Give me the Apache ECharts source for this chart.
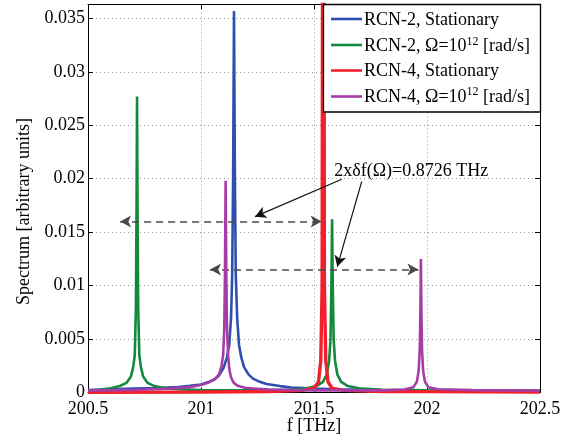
<!DOCTYPE html>
<html><head><meta charset="utf-8">
<script src="https://cdn.jsdelivr.net/npm/echarts@6/dist/echarts.min.js"></script>
<style>html,body{margin:0;padding:0;background:#fff}#c{width:567px;height:438px}</style>
</head><body><div id="c"></div>
<script>
// ---- data ----
const seriesNames = ['RCN-2, Stationary', 'RCN-2, Ω=10^12 [rad/s]', 'RCN-4, Stationary', 'RCN-4, Ω=10^12 [rad/s]'];
const seriesColors = ['#2f4fb0', '#12893c', '#f2202a', '#a63ca6'];
const xTicks = [200.5, 201, 201.5, 202, 202.5];
const yTicks = [0, 0.005, 0.01, 0.015, 0.02, 0.025, 0.03, 0.035];

const rcn2Stationary = [
  [200.5,0.00022],[200.6,0.0003],[200.7,0.00036],[200.8,0.00042],[200.9,0.00052],[200.95,0.00062],
  [201.0,0.00075],[201.03,0.00095],[201.06,0.00125],[201.08,0.0016],[201.1,0.0023],[201.115,0.0033],
  [201.125,0.0045],[201.133,0.007],[201.138,0.011],[201.142,0.02],[201.146,0.0357],[201.150,0.02],
  [201.154,0.011],[201.160,0.007],[201.168,0.0045],[201.178,0.0033],[201.19,0.0024],[201.21,0.0017],
  [201.23,0.0013],[201.26,0.001],[201.29,0.0008],[201.35,0.0006],[201.4,0.00046],[201.5,0.00036],
  [201.6,0.0003],[201.8,0.00022],[202.0,0.00018],[202.5,0.00012]
];
const rcn2Rotating = [
  [200.5,0.00018],[200.55,0.00025],[200.6,0.0004],[200.64,0.0006],[200.67,0.0009],[200.69,0.0015],
  [200.70,0.0024],[200.707,0.0035],[200.712,0.008],[200.715,0.018],[200.717,0.0277],[200.719,0.018],
  [200.722,0.008],[200.727,0.0035],[200.734,0.0024],[200.744,0.0015],[200.764,0.0009],[200.794,0.0006],
  [200.84,0.0004],[200.9,0.0003],[201.0,0.00022],[201.2,0.0002],[201.4,0.00025],[201.47,0.0004],
  [201.51,0.0006],[201.54,0.001],[201.557,0.0017],[201.567,0.003],[201.573,0.005],[201.577,0.01],
  [201.580,0.0162],[201.583,0.01],[201.587,0.005],[201.593,0.003],[201.603,0.0017],[201.62,0.001],
  [201.65,0.0006],[201.7,0.0004],[201.8,0.00025],[202.0,0.0002],[202.5,0.00018]
];
const rcn4Stationary = [
  [200.5,0.00003],[201.0,0.00005],[201.3,0.0001],[201.45,0.0002],[201.5,0.0004],[201.52,0.001],
  [201.53,0.003],[201.536,0.01],[201.541,0.1],[201.546,0.01],[201.552,0.003],[201.562,0.001],
  [201.58,0.0004],[201.63,0.0002],[201.8,0.0001],[202.0,0.00008],[202.5,0.00005]
];
const rcn4Rotating = [
  [200.5,0.00018],[200.7,0.00025],[200.85,0.00035],[200.95,0.0005],[201.0,0.0007],[201.03,0.0009],
  [201.06,0.0012],[201.08,0.0017],[201.09,0.0024],[201.098,0.0035],[201.103,0.006],[201.106,0.011],
  [201.109,0.0198],[201.112,0.011],[201.115,0.006],[201.12,0.0035],[201.125,0.0022],[201.133,0.0014],
  [201.145,0.0009],[201.165,0.0006],[201.2,0.00042],[201.3,0.00028],[201.5,0.0002],[201.8,0.0002],
  [201.9,0.00028],[201.94,0.0005],[201.955,0.001],[201.963,0.002],[201.968,0.004],[201.971,0.008],
  [201.973,0.0125],[201.975,0.008],[201.978,0.004],[201.983,0.002],[201.991,0.001],[202.006,0.0005],
  [202.05,0.0003],[202.2,0.00022],[202.5,0.00018]
];
const seriesData = [rcn2Stationary, rcn2Rotating, rcn4Stationary, rcn4Rotating];

// annotation anchors (data coordinates)
const annotationText = '2xδf(Ω)=0.8726 THz';
const annotationPos = [201.93, 0.0207];
const dashedArrows = [
  [[200.642, 0.0160], [201.534, 0.0160]],
  [[201.040, 0.0115], [201.962, 0.0115]]
];
const solidArrows = [
  [[201.623, 0.01995], [201.239, 0.01645]],
  [[201.711, 0.01973], [201.603, 0.01177]]
];

const FONT = 'Liberation Serif, Times New Roman, serif';
const chart = echarts.init(document.getElementById('c'));

function richName(name) {
  const i = name.indexOf('^12');
  if (i < 0) return '{a|' + name + '}';
  return '{a|' + name.slice(0, i) + '}{sup|12}{a|' + name.slice(i + 3) + '}';
}

const gridLine = { show: true, lineStyle: { color: '#9a9a9a', type: [1, 3], width: 1 } };

const series = seriesNames.map((n, i) => ({
  name: n, type: 'line', data: seriesData[i], showSymbol: false, symbol: 'none',
  color: seriesColors[i], lineStyle: { width: i === 2 ? 3.4 : 2.6, color: seriesColors[i] },
  clip: true, animation: false, z: 2 + i
}));
series.push({
  type: 'line', data: [], silent: true, animation: false, z: 10,
  markLine: {
    silent: true, animation: false, label: { show: false }, symbolSize: [9, 11],
    data: [
      ...dashedArrows.map(a => [
        { coord: a[0], symbol: 'arrow', lineStyle: { color: '#4a4a4a', type: [7, 5], width: 1.5 }, itemStyle: { color: '#222' } },
        { coord: a[1], symbol: 'arrow' }
      ]),
      ...solidArrows.map(a => [
        { coord: a[0], symbol: 'none', lineStyle: { color: '#111', type: 'solid', width: 1.2 }, itemStyle: { color: '#111' } },
        { coord: a[1], symbol: 'arrow' }
      ])
    ]
  }
});

const axisCommon = {
  axisLine: { show: true, onZero: false, lineStyle: { color: '#000', width: 1 } },
  axisTick: { show: true, inside: true, length: 5, lineStyle: { color: '#000' } }
};

chart.setOption({
  backgroundColor: '#fff',
  animation: false,
  grid: { left: 88, right: 27, top: 4.5, bottom: 45.5, containLabel: false, outerBoundsMode: 'none' },
  xAxis: [
    Object.assign({
      type: 'value', min: 200.5, max: 202.5, interval: 0.5,
      name: 'f [THz]', nameLocation: 'middle', nameGap: 25, nameMoveOverlap: false,
      nameTextStyle: { fontFamily: FONT, fontSize: 18, color: '#000' },
      axisLabel: { fontFamily: FONT, fontSize: 18, color: '#000', margin: 8,
        formatter: v => xTicks.includes(+v.toFixed(2)) ? String(+v.toFixed(2)) : '' },
      splitLine: gridLine
    }, axisCommon),
    Object.assign({
      type: 'value', min: 200.5, max: 202.5, interval: 0.5, position: 'top',
      axisLabel: { show: false }, splitLine: { show: false }
    }, axisCommon)
  ],
  yAxis: [
    Object.assign({
      type: 'value', min: 0, max: 0.0363, interval: 0.005,
      name: 'Spectrum [arbitrary units]', nameLocation: 'middle', nameGap: 51,
      nameTextStyle: { fontFamily: FONT, fontSize: 18, color: '#000', padding: [0, 26, 0, 0] },
      axisLabel: { fontFamily: FONT, fontSize: 18, color: '#000', margin: 3, showMaxLabel: false,
        formatter: v => yTicks.includes(+v.toFixed(3)) ? String(+v.toFixed(3)) : '' },
      splitLine: gridLine
    }, axisCommon),
    Object.assign({
      type: 'value', min: 0, max: 0.0363, interval: 0.005, position: 'right',
      axisLabel: { show: false }, splitLine: { show: false }
    }, axisCommon)
  ],
  series: series
});

// legend box (drawn as graphic so row spacing matches the reference)
const legendRowsY = [19, 45, 70.5, 96.5];
const legendTextY = [20, 46.5, 71, 97];
const legendEls = [{
  type: 'rect', shape: { x: 323.5, y: 4.5, width: 217, height: 107.5 }, z: 30, silent: true,
  style: { fill: '#fff', stroke: '#000', lineWidth: 1.3 }
}];
seriesNames.forEach((n, i) => {
  legendEls.push({
    type: 'line', shape: { x1: 331, y1: legendRowsY[i], x2: 362, y2: legendRowsY[i] }, z: 31, silent: true,
    style: { stroke: seriesColors[i], lineWidth: 2.6 }
  });
  legendEls.push({
    type: 'text', x: 364, y: legendTextY[i], z: 31, silent: true,
    style: { text: richName(n), verticalAlign: 'middle', align: 'left', fill: '#000',
      rich: {
        a: { fontFamily: FONT, fontSize: 18, lineHeight: 22, fill: '#000' },
        sup: { fontFamily: FONT, fontSize: 12, lineHeight: 12, verticalAlign: 'top', fill: '#000' }
      }
    }
  });
});

const p = chart.convertToPixel({ xAxisIndex: 0, yAxisIndex: 0 }, annotationPos);
legendEls.push({
  type: 'text', x: p[0], y: p[1], silent: true, z: 20,
  style: { text: annotationText, fontFamily: FONT, fontSize: 18, fill: '#000',
    align: 'center', verticalAlign: 'middle' }
});
chart.setOption({ graphic: legendEls });
</script></body></html>
